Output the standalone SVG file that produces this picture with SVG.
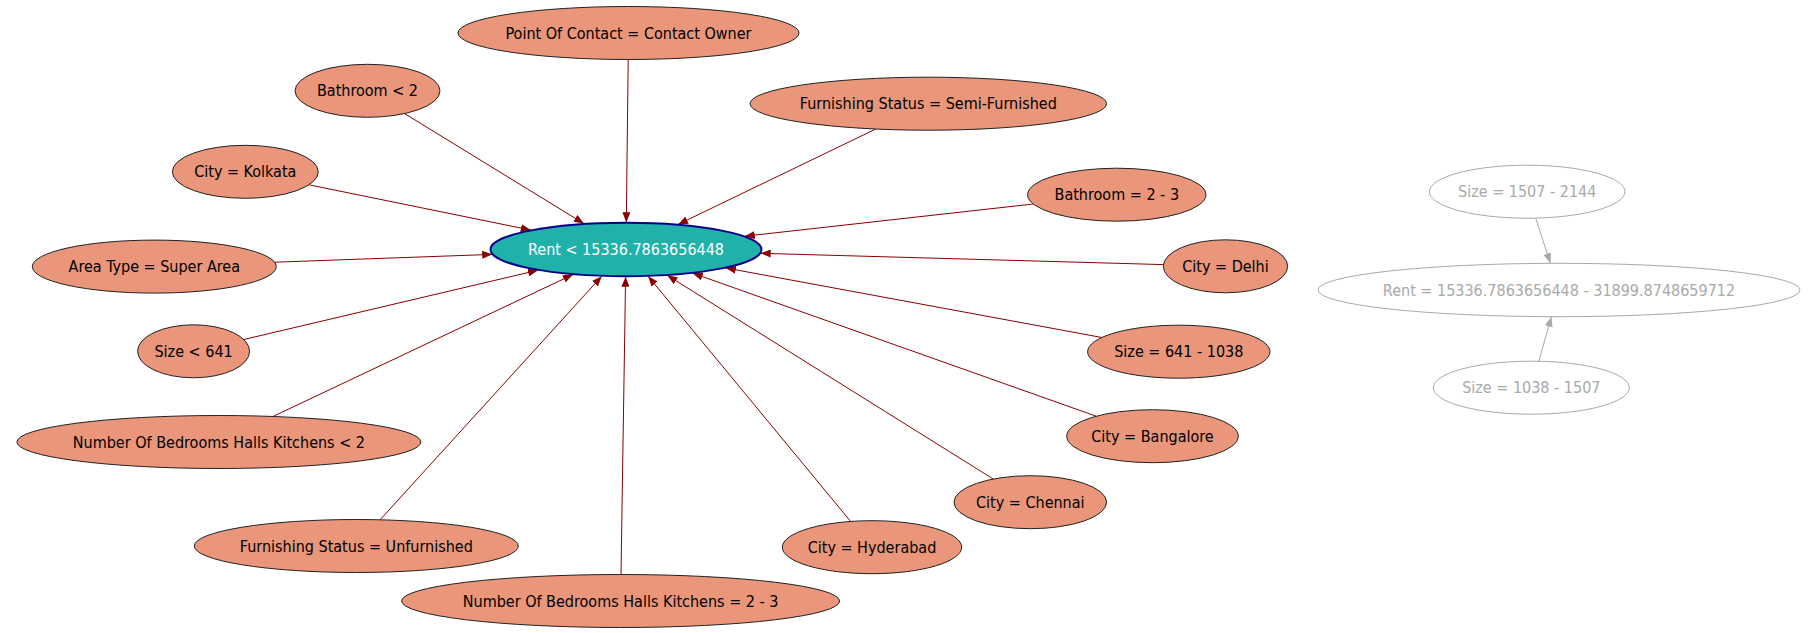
<svg xmlns="http://www.w3.org/2000/svg" width="1817" height="633" viewBox="0 0 1817 633">
<style>
  text { font-family: "DejaVu Sans Condensed", "DejaVu Sans", sans-serif; font-size: 16px; text-anchor: middle; dominant-baseline: central; }
  .n ellipse { fill: #E9967A; stroke: #222; stroke-width: 1; }
  .n text { fill: #000; }
  .c ellipse { fill: #20B2AA; stroke: #00008B; stroke-width: 2; }
  .c text { fill: #fff; }
  .g ellipse { fill: none; stroke: #a9a9a9; stroke-width: 1; }
  .g text { fill: #a9a9a9; }
  .e line { stroke: #8B0000; stroke-width: 1; marker-end: url(#ar); }
  .ge line { stroke: #a9a9a9; stroke-width: 1; marker-end: url(#ag); }
</style>
<defs>
  <marker id="ar" viewBox="0 0 10 8" refX="10" refY="4" markerWidth="10" markerHeight="8" markerUnits="userSpaceOnUse" orient="auto">
    <path d="M0,0 L10,4 L0,8 Z" fill="#8B0000"/>
  </marker>
  <marker id="ag" viewBox="0 0 10 8" refX="10" refY="4" markerWidth="10" markerHeight="8" markerUnits="userSpaceOnUse" orient="auto">
    <path d="M0,0 L10,4 L0,8 Z" fill="#a9a9a9"/>
  </marker>
</defs>
<rect width="1817" height="633" fill="#fff"/>
<g id="connectors">
  <g class="e">
    <line x1="628.2" y1="59.5" x2="626.3" y2="222.3"/>
    <line x1="404.6" y1="113.6" x2="583.9" y2="223.6"/>
    <line x1="875.8" y1="129.0" x2="678.1" y2="224.4"/>
    <line x1="308.9" y1="184.8" x2="530.8" y2="230.1"/>
    <line x1="1033.3" y1="204.0" x2="744.8" y2="236.2"/>
    <line x1="274.6" y1="262.2" x2="492.2" y2="254.4"/>
    <line x1="1163.4" y1="264.6" x2="760.7" y2="253.3"/>
    <line x1="243.8" y1="339.5" x2="538.0" y2="270.2"/>
    <line x1="1101.9" y1="337.5" x2="725.9" y2="268.0"/>
    <line x1="272.9" y1="416.5" x2="573.0" y2="274.5"/>
    <line x1="1096.2" y1="416.2" x2="692.8" y2="273.2"/>
    <line x1="993.2" y1="479.0" x2="667.4" y2="275.4"/>
    <line x1="380.1" y1="519.8" x2="601.7" y2="276.3"/>
    <line x1="850.7" y1="521.5" x2="648.2" y2="276.3"/>
    <line x1="621.0" y1="574.5" x2="625.6" y2="276.7"/>
  </g>
  <g class="ge">
    <line x1="1535.7" y1="218.1" x2="1550.4" y2="263.3"/>
    <line x1="1538.8" y1="361.3" x2="1551.4" y2="316.7"/>
  </g>
</g>
<g id="rent_low" class="c"><ellipse cx="626" cy="249.5" rx="135.5" ry="26.7"/><text x="626" y="249.5">Rent &lt; 15336.7863656448</text></g>
<g id="poc_owner" class="n"><ellipse cx="628.5" cy="33" rx="170.5" ry="26.5"/><text x="628.5" y="33">Point Of Contact = Contact Owner</text></g>
<g id="bath_lt2" class="n"><ellipse cx="367.5" cy="90.8" rx="72.5" ry="26.5"/><text x="367.5" y="90.8">Bathroom &lt; 2</text></g>
<g id="furn_semi" class="n"><ellipse cx="928.3" cy="103.7" rx="178.3" ry="26.5"/><text x="928.3" y="103.7">Furnishing Status = Semi-Furnished</text></g>
<g id="city_kolkata" class="n"><ellipse cx="245.3" cy="171.8" rx="73" ry="26.5"/><text x="245.3" y="171.8">City = Kolkata</text></g>
<g id="bath_2_3" class="n"><ellipse cx="1116.8" cy="194.7" rx="89.2" ry="26.5"/><text x="1116.8" y="194.7">Bathroom = 2 - 3</text></g>
<g id="area_super" class="n"><ellipse cx="154.3" cy="266.6" rx="122" ry="26.5"/><text x="154.3" y="266.6">Area Type = Super Area</text></g>
<g id="city_delhi" class="n"><ellipse cx="1225.5" cy="266.3" rx="62.2" ry="26.5"/><text x="1225.5" y="266.3">City = Delhi</text></g>
<g id="size_lt641" class="n"><ellipse cx="193.6" cy="351.3" rx="56" ry="26.5"/><text x="193.6" y="351.3">Size &lt; 641</text></g>
<g id="size_641_1038" class="n"><ellipse cx="1178.8" cy="351.7" rx="91.2" ry="26.5"/><text x="1178.8" y="351.7">Size = 641 - 1038</text></g>
<g id="bhk_lt2" class="n"><ellipse cx="218.9" cy="442" rx="202" ry="26.5"/><text x="218.9" y="442">Number Of Bedrooms Halls Kitchens &lt; 2</text></g>
<g id="city_bangalore" class="n"><ellipse cx="1152.5" cy="436.2" rx="85.8" ry="26.5"/><text x="1152.5" y="436.2">City = Bangalore</text></g>
<g id="city_chennai" class="n"><ellipse cx="1030.3" cy="502.2" rx="76.3" ry="26.5"/><text x="1030.3" y="502.2">City = Chennai</text></g>
<g id="furn_unfurnished" class="n"><ellipse cx="356.3" cy="546" rx="162" ry="26.5"/><text x="356.3" y="546">Furnishing Status = Unfurnished</text></g>
<g id="city_hyderabad" class="n"><ellipse cx="872" cy="547.2" rx="89.7" ry="26.5"/><text x="872" y="547.2">City = Hyderabad</text></g>
<g id="bhk_2_3" class="n"><ellipse cx="620.6" cy="601" rx="219" ry="26.5"/><text x="620.6" y="601">Number Of Bedrooms Halls Kitchens = 2 - 3</text></g>
<g id="size_1507_2144" class="g"><ellipse cx="1527.2" cy="191.7" rx="97.8" ry="26.5"/><text x="1527.2" y="191.7">Size = 1507 - 2144</text></g>
<g id="rent_mid" class="g"><ellipse cx="1559" cy="290" rx="241" ry="26.7"/><text x="1559" y="290">Rent = 15336.7863656448 - 31899.8748659712</text></g>
<g id="size_1038_1507" class="g"><ellipse cx="1531.3" cy="387.7" rx="98" ry="26.5"/><text x="1531.3" y="387.7">Size = 1038 - 1507</text></g>
</svg>
